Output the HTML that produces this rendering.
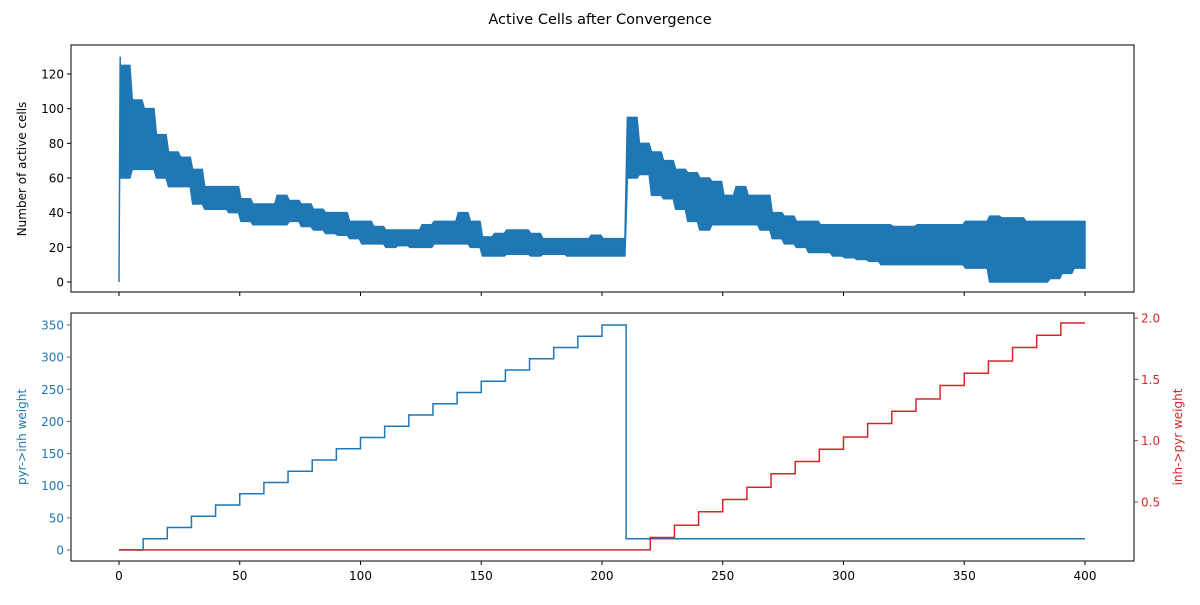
<!DOCTYPE html>
<html><head><meta charset="utf-8"><style>
body{margin:0;background:#fff;font-family:"Liberation Sans","DejaVu Sans",sans-serif}
svg text{font-family:"DejaVu Sans","Liberation Sans",sans-serif;font-size:12px}
</style></head><body>
<svg id="c" width="1200" height="600" xmlns="http://www.w3.org/2000/svg">
<text x="600" y="24" text-anchor="middle" style="font-size:14.5px">Active Cells after Convergence</text>
<g id="topg"></g><g id="botg"></g>
</svg>
<script>
const binStart=[0,5,10,15,20,25,30,35,40,45,50,55,60,65,70,75,80,85,90,95,100,105,110,115,120,125,130,135,140,145,150,155,160,165,170,175,180,185,190,195,200,205,210,215,220,225,230,235,240,245,250,255,260,265,270,275,280,285,290,295,300,305,310,315,320,325,330,335,340,345,350,355,360,365,370,375,380,385,390,395];
const activeLo=[60,65,65,60,55,55,45,42,42,40,35,33,33,33,35,32,30,28,27,25,22,22,20,21,20,20,22,22,22,20,15,15,16,16,15,16,16,15,15,15,15,15,60,62,50,48,42,35,30,33,33,33,33,30,25,22,20,17,17,15,14,13,12,10,10,10,10,10,10,10,8,8,0,0,0,0,0,2,5,8];
const activeHi=[125,105,100,85,75,72,65,55,55,55,48,45,45,50,47,45,42,40,40,35,35,32,30,30,30,33,35,35,40,35,26,28,30,30,28,25,25,25,25,27,25,25,95,80,75,70,65,63,60,58,50,55,50,50,40,38,35,35,33,33,33,33,33,33,32,32,33,33,33,33,35,35,38,37,37,35,35,35,35,35];
const stepX=[0,10,20,30,40,50,60,70,80,90,100,110,120,130,140,150,160,170,180,190,200,210,220,230,240,250,260,270,280,290,300,310,320,330,340,350,360,370,380,390,400];
const pyrInh=[0,17.5,35,52.5,70,87.5,105,122.5,140,157.5,175,192.5,210,227.5,245,262.5,280,297.5,315,332.5,350,17.5,17.5,17.5,17.5,17.5,17.5,17.5,17.5,17.5,17.5,17.5,17.5,17.5,17.5,17.5,17.5,17.5,17.5,17.5,17.5];
const inhPyr=[0.109,0.109,0.109,0.109,0.109,0.109,0.109,0.109,0.109,0.109,0.109,0.109,0.109,0.109,0.109,0.109,0.109,0.109,0.109,0.109,0.109,0.109,0.21,0.31,0.42,0.52,0.62,0.73,0.83,0.93,1.03,1.14,1.24,1.34,1.45,1.55,1.65,1.76,1.86,1.96,1.96];
const xTicks=[0,50,100,150,200,250,300,350,400];
const topTicks=[0,20,40,60,80,100,120];
const leftTicks=[0,50,100,150,200,250,300,350];
const rightTicks=[0.5,1.0,1.5,2.0];
const NS="http://www.w3.org/2000/svg";
const X=v=>119+v*2.415;
const Yt=v=>282-v*1.7333;
const Yl=v=>550-v*0.6429;
const Yr=v=>563.3-v*122.6;
function mk(p,t,a){const e=document.createElementNS(NS,t);for(const k in a)e.setAttribute(k,a[k]);p.appendChild(e);return e;}
const gTop=document.getElementById('topg'),gBot=document.getElementById('botg');
let up=[],dn=[];
const n=binStart.length;
for(let i=0;i<n;i++){const xa=X(binStart[i]+0.5),xb=X(binStart[i]+(i==n-1?5:4.5));up.push(xa+','+Yt(activeHi[i]),xb+','+Yt(activeHi[i]));dn.unshift(xb+','+Yt(activeLo[i]),xa+','+Yt(activeLo[i]));}
let band=mk(gTop,'polygon',{points:up.concat(dn).join(' '),fill:'#1f77b4',stroke:'#1f77b4','stroke-width':1.5,'stroke-linejoin':'round'});


let sp=mk(gTop,'polyline',{points:X(0)+','+Yt(0)+' '+X(0.5)+','+Yt(130)+' '+X(0.5)+','+Yt(activeLo[0]),fill:'none',stroke:'#1f77b4','stroke-width':1.5});


function axes(g,y0,y1,name){let r=mk(g,'rect',{x:71,y:y0,width:1063,height:y1-y0,fill:'none',stroke:'#000','stroke-width':1});}
axes(gTop,45,292,'top-axes-frame');axes(gBot,313,561,'bottom-axes-frame');
xTicks.forEach(v=>{mk(gTop,'line',{x1:X(v),x2:X(v),y1:292,y2:296,stroke:'#000'});mk(gBot,'line',{x1:X(v),x2:X(v),y1:561,y2:565,stroke:'#000'});
let t=mk(gBot,'text',{x:X(v),y:580,'text-anchor':'middle'});t.textContent=v;});
topTicks.forEach(v=>{mk(gTop,'line',{x1:67,x2:71,y1:Yt(v),y2:Yt(v),stroke:'#000'});let t=mk(gTop,'text',{x:64,y:Yt(v)+4.5,'text-anchor':'end'});t.textContent=v;});
leftTicks.forEach(v=>{mk(gBot,'line',{x1:67,x2:71,y1:Yl(v),y2:Yl(v),stroke:'#1f77b4'});let t=mk(gBot,'text',{x:64,y:Yl(v)+4.5,'text-anchor':'end',fill:'#1f77b4'});t.textContent=v;});
rightTicks.forEach(v=>{mk(gBot,'line',{x1:1134,x2:1138,y1:Yr(v),y2:Yr(v),stroke:'#d62728'});let t=mk(gBot,'text',{x:1141,y:Yr(v)+4.5,fill:'#d62728'});t.textContent=v.toFixed(1);});
function steps(arr,Y){let p=[];for(let i=0;i<stepX.length;i++){if(i>0)p.push(X(stepX[i])+','+Y(arr[i-1]));p.push(X(stepX[i])+','+Y(arr[i]));}return p.join(' ');}
let l1=mk(gBot,'polyline',{points:steps(pyrInh,Yl),fill:'none',stroke:'#1f77b4','stroke-width':1.5});


let l2=mk(gBot,'polyline',{points:steps(inhPyr,Yr),fill:'none',stroke:'#d62728','stroke-width':1.5});


let a=mk(gTop,'text',{transform:'translate(26,169) rotate(-90)','text-anchor':'middle'});a.textContent='Number of active cells';
let b=mk(gBot,'text',{transform:'translate(26,437) rotate(-90)','text-anchor':'middle',fill:'#1f77b4'});b.textContent='pyr->inh weight';
let c=mk(gBot,'text',{transform:'translate(1182,437) rotate(-90)','text-anchor':'middle',fill:'#d62728'});c.textContent='inh->pyr weight';
</script>
</body></html>
